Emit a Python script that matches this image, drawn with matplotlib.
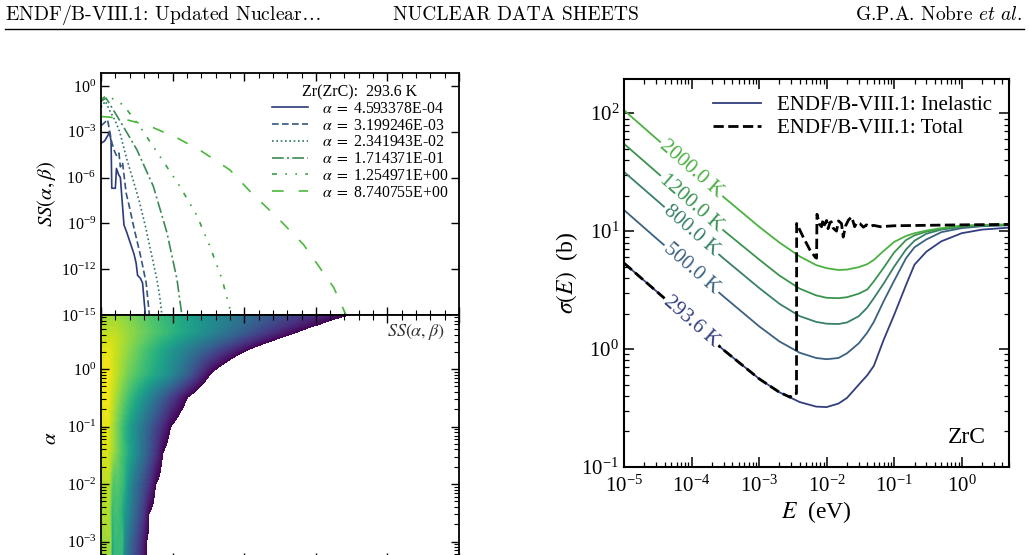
import numpy as np
import matplotlib
matplotlib.use('Agg')
import matplotlib.pyplot as plt
from matplotlib.lines import Line2D
from matplotlib.ticker import LogLocator, NullFormatter, MultipleLocator, NullLocator, FixedLocator

plt.rcParams['font.family'] = ['Liberation Serif', 'DejaVu Serif']
plt.rcParams['mathtext.fontset'] = 'stix'

# ---------------- Left top panel: SS(alpha, beta) for Zr in ZrC, 293.6 K ----------------
alpha_labels = ['4.593378E-04', '3.199246E-03', '2.341943E-02',
                '1.714371E-01', '1.254971E+00', '8.740755E+00']

beta_a1 = [0, 0.5, 1.0, 1.15, 1.4, 1.5, 2.0, 2.15, 2.45, 2.7, 3.2, 3.6, 4.1, 4.6, 4.9, 5.1, 5.5, 5.8, 6.0, 6.25]
logss_a1 = [-3.75, -3.6, -3.2, -3.0, -3.6, -6.7, -6.7, -5.4, -5.8, -6.0, -9.1, -9.6, -10.3, -11.0, -11.6, -12.4, -12.6, -12.9, -14.0, -15.3]

beta_a2 = [0, 0.5, 0.9, 1.5, 1.9, 2.2, 2.5, 2.7, 3.0, 3.5, 4.0, 4.6, 5.1, 5.6, 6.3, 6.8]
logss_a2 = [-2.6, -2.4, -2.2, -3.7, -4.3, -4.6, -4.4, -5.3, -5.0, -7.0, -8.0, -9.3, -10.3, -11.3, -12.9, -15.2]

beta_a3 = [0, 0.6, 1.2, 2.0, 2.6, 3.6, 4.5, 5.4, 6.2, 6.8, 7.4, 7.8, 8.2, 8.55]
logss_a3 = [-1.4, -1.0, -1.6, -2.3, -3.0, -4.8, -6.2, -7.65, -9.2, -10.5, -11.8, -12.65, -13.8, -15.2]

beta_a4 = [0, 0.7, 1.5, 3.1, 5.0, 7.3, 9.2, 10.6, 11.35]
logss_a4 = [-1.0, -0.8, -1.4, -2.65, -4.17, -6.57, -9.6, -12.65, -15.2]

beta_a5 = [0, 0.8, 1.5, 3.1, 5.4, 8.2, 11.0, 13.4, 15.2, 16.9, 18.0, 18.3]
logss_a5 = [-0.9, -0.6, -0.8, -1.24, -2.65, -4.6, -6.57, -8.5, -10.5, -12.65, -14.6, -15.2]

beta_a6 = [0, 2.6, 6.4, 10.6, 13.8, 18.0, 20.8, 25.0, 28.3, 30.1, 32.5, 34.4]
logss_a6 = [-2.0, -2.1, -2.55, -3.4, -4.2, -5.5, -6.9, -8.8, -10.4, -11.6, -13.2, -15.2]

contour_alpha = [4.593378e-4, 1.07e-3, 3.1e-3, 1.0e-2, 3.5e-2, 0.1, 0.33, 0.85,
                 2.17, 3.2, 4.5, 6.2, 8.740755]
row_b_459e4 = [0, 1.2, 1.4, 1.8, 2.0, 2.8, 3.0, 3.6, 5.5, 6.1]
row_l_459e4 = [-2.3, -2.1, -6.5, -6.5, -5.0, -5.0, -7.8, -9.5, -13.5, -15.0]
row_b_107e3 = [0, 1.2, 1.45, 1.8, 2.0, 2.9, 3.1, 3.7, 5.7, 6.3]
row_l_107e3 = [-2.2, -2.0, -6.3, -6.3, -4.8, -4.8, -7.5, -9.3, -13.5, -15.0]
row_b_31e3 = [0, 1.0, 1.5, 2.0, 2.6, 3.2, 4.0, 5.8, 6.6]
row_l_31e3 = [-2.0, -1.8, -5.5, -4.5, -5.0, -7.0, -8.8, -12.5, -15.0]
row_b_1e2 = [0, 1.0, 1.6, 2.2, 3.0, 3.6, 4.3, 6.8, 7.5]
row_l_1e2 = [-1.8, -1.5, -4.5, -4.0, -5.0, -7.0, -8.8, -13.2, -15.0]
row_b_35e3 = [0, 0.8, 2.0, 4.0, 6.0, 7.8, 8.5]
row_l_35e3 = [-1.2, -0.9, -3.0, -6.5, -10.0, -13.3, -15.0]
row_b_01 = [0, 0.8, 4.0, 7.0, 9.0, 9.6]
row_l_01 = [-0.9, -0.6, -6.8, -11.2, -14.0, -15.0]
row_b_033 = [0, 0.8, 3.0, 6.0, 9.0, 12.0]
row_l_033 = [-0.6, -0.3, -3.6, -7.5, -11.3, -15.0]
row_b_085 = [0, 0.8, 3.7, 6.0, 9.3, 12.0, 15.2]
row_l_085 = [-0.5, -0.2, -3.3, -5.0, -7.5, -10.5, -15.0]
row_b_217 = [0, 1.0, 5.0, 10.0, 15.0, 20.3]
row_l_217 = [-0.8, -0.6, -3.6, -7.3, -11.0, -15.0]
row_b_32 = [0, 1.5, 6.0, 12.0, 18.0, 23.9]
row_l_32 = [-1.2, -1.1, -3.8, -7.5, -11.2, -15.0]
row_b_45 = [0, 2.0, 8.0, 14.0, 20.0, 27.3]
row_l_45 = [-1.6, -1.6, -4.4, -7.4, -10.8, -15.0]
row_b_62 = [0, 2.0, 9.0, 16.0, 23.0, 30.5]
row_l_62 = [-1.9, -1.9, -5.0, -8.2, -11.4, -15.0]
row_b_874 = [0, 2.0, 13.4, 22.7, 34.3]
row_l_874 = [-2.2, -2.2, -7.1, -10.6, -15.0]

# ---------------- Right panel: ZrC cross sections ----------------
E_grid = [1e-5, 3e-5, 1e-4, 3e-4, 1e-3, 2e-3, 4e-3, 7e-3, 1e-2, 1.5e-2, 2e-2, 3e-2,
          4e-2, 5e-2, 7e-2, 0.1, 0.15, 0.2, 0.3, 0.5, 1.0, 2.0, 5.0]
sig_293 = [5.36, 3.1, 1.7, 0.98, 0.56, 0.43, 0.355, 0.325, 0.322, 0.345, 0.385, 0.50,
           0.60, 0.72, 1.2, 1.95, 3.5, 5.2, 6.7, 8.2, 9.6, 10.3, 10.7]
sig_500 = [15.1, 8.7, 4.8, 2.78, 1.56, 1.16, 0.93, 0.84, 0.82, 0.84, 0.92, 1.12,
           1.38, 1.7, 2.55, 3.8, 5.9, 7.3, 8.5, 9.8, 10.6, 11.0, 11.2]
sig_800 = [31.8, 18.4, 10.1, 5.85, 3.3, 2.42, 1.9, 1.7, 1.64, 1.63, 1.68, 1.9,
           2.25, 2.7, 3.6, 5.0, 7.0, 8.3, 9.5, 10.3, 10.85, 11.1, 11.3]
sig_1200 = [55, 31.8, 17.4, 10.1, 5.75, 4.2, 3.25, 2.85, 2.72, 2.7, 2.75, 2.95,
            3.2, 3.75, 4.9, 6.6, 8.4, 9.2, 9.9, 10.45, 10.95, 11.2, 11.35]
sig_2000 = [106, 61, 33.5, 19.4, 10.9, 8.0, 6.1, 5.15, 4.85, 4.68, 4.72, 4.95,
            5.25, 5.7, 6.8, 8.1, 9.1, 9.6, 10.1, 10.6, 11.15, 11.3, 11.4]
temp_labels = ['293.6 K', '500.0 K', '800.0 K', '1200.0 K', '2000.0 K']

E_tot = [1e-5, 3e-5, 1e-4, 3e-4, 1e-3, 2e-3, 2.9e-3, 3.0e-3, 3.58e-3, 3.6e-3, 4.5e-3, 5.6e-3,
         6.8e-3, 7.1e-3, 7.2e-3, 7.8e-3, 8.4e-3, 8.9e-3, 9.3e-3, 1.0e-2, 1.05e-2, 1.12e-2,
         1.17e-2, 1.25e-2, 1.4e-2, 1.5e-2, 1.66e-2, 1.76e-2, 1.9e-2, 2.1e-2, 2.35e-2,
         2.6e-2, 2.8e-2, 3.1e-2, 3.5e-2, 3.9e-2, 4.4e-2, 4.9e-2, 6.2e-2, 0.1, 0.3, 1.0, 5.0]
sig_tot = [5.36, 3.1, 1.7, 0.98, 0.56, 0.43, 0.39, 0.41, 0.42, 11.6, 8.9, 7.0,
           6.0, 5.9, 13.9, 11.5, 10.9, 12.6, 11.3, 12.3, 10.5, 11.8,
           12.0, 10.6, 10.0, 12.2, 11.6, 8.9, 11.0, 12.4, 13.2,
           10.9, 11.8, 11.6, 10.8, 11.3, 10.9, 11.2, 10.9, 11.1, 11.2, 11.3, 11.4]

# ---------------- styling ----------------
left_colors = ['#2c3b7a', '#34577e', '#2f7566', '#3a8a57', '#3aa044', '#4ab83b']
left_styles = ['-', (0, (4, 2)), (0, (1, 1.6)), (0, (7, 2, 1.2, 2)),
               (0, (3, 5, 1, 5, 1, 5)), (0, (7, 9))]
right_colors = ['#323e7e', '#3b6182', '#3a8068', '#3a9450', '#4cb142']

fig = plt.figure(figsize=(10.29, 5.55), dpi=100)

# header
fig.text(0.005, 0.973, r'ENDF/B-VIII.1: Updated Nuclear$\ldots$', fontfamily='cmr10',
         math_fontfamily='cm', fontsize=14.2, ha='left', va='center')
fig.text(0.5015, 0.973, 'NUCLEAR DATA SHEETS', fontfamily='cmr10', fontsize=14,
         ha='center', va='center')
fig.text(0.993, 0.973, r'G.P.A. Nobre $et\ al.$', fontfamily='cmr10', math_fontfamily='cm',
         fontsize=14, ha='right', va='center')
fig.add_artist(Line2D([0.005, 0.995], [0.947, 0.947], transform=fig.transFigure,
                      color='black', lw=1.0))

# ---- top-left
ax1 = fig.add_axes([0.0982, 0.4324, 0.3479, 0.4360])
curves_b = [beta_a1, beta_a2, beta_a3, beta_a4, beta_a5, beta_a6]
curves_l = [logss_a1, logss_a2, logss_a3, logss_a4, logss_a5, logss_a6]
for b, l, lab, col, ls in zip(curves_b, curves_l, alpha_labels, left_colors, left_styles):
    ax1.plot(b, 10.0 ** np.array(l), color=col, ls=ls, lw=1.2,
             label=r'$\alpha\ =\ $' + lab)
ax1.set_yscale('log')
ax1.set_xlim(0, 50)
ax1.set_ylim(1e-15, 7)
ax1.yaxis.set_major_locator(FixedLocator([1e0, 1e-3, 1e-6, 1e-9, 1e-12, 1e-15]))
ax1.yaxis.set_minor_locator(NullLocator())
ax1.xaxis.set_major_locator(MultipleLocator(10))
ax1.xaxis.set_minor_locator(MultipleLocator(2))
ax1.tick_params(which='both', direction='in', top=True, right=True, labelbottom=False,
                labelsize=11.5)
ax1.tick_params(which='major', length=6, width=1)
ax1.tick_params(which='minor', length=3.5, width=0.8)
ax1.set_ylabel(r'$SS(\alpha,\beta)$', fontsize=15, labelpad=2)
leg1 = ax1.legend(title='Zr(ZrC):  293.6 K', loc='upper right', frameon=False,
                  fontsize=11.3, title_fontsize=11.5, labelspacing=0.05,
                  handlelength=2.3, borderaxespad=0.1, borderpad=0.6,
                  handletextpad=0.9)
for s in ax1.spines.values():
    s.set_linewidth(1.3)

# ---- bottom-left contour: table built from the rows, refined along log(alpha)
ax2 = fig.add_axes([0.0982, -0.0108, 0.3479, 0.4432])
rows_b = [row_b_459e4, row_b_107e3, row_b_31e3, row_b_1e2, row_b_35e3, row_b_01, row_b_033,
          row_b_085, row_b_217, row_b_32, row_b_45, row_b_62, row_b_874]
rows_l = [row_l_459e4, row_l_107e3, row_l_31e3, row_l_1e2, row_l_35e3, row_l_01, row_l_033,
          row_l_085, row_l_217, row_l_32, row_l_45, row_l_62, row_l_874]
beta_grid = np.linspace(0, 50, 501)
table_rows = []
for b, l in zip(rows_b, rows_l):
    tail_slope = (l[-1] - l[-2]) / (b[-1] - b[-2])
    bb = list(b) + [60.0]
    ll = list(l) + [max(l[-1] + tail_slope * (60.0 - b[-1]), -60.0)]
    table_rows.append(np.interp(beta_grid, bb, ll))
table = np.array(table_rows)
log_a = np.log10(contour_alpha)
log_a_fine = np.linspace(log_a[0], log_a[-1], 300)
table_fine = np.array([np.interp(log_a_fine, log_a, table[:, j])
                       for j in range(len(beta_grid))]).T
alpha_fine = 10.0 ** log_a_fine
levels = np.linspace(-15, 0, 61)
cs = ax2.contourf(beta_grid, alpha_fine, table_fine, levels=levels, cmap='viridis')
cs.set_edgecolor('face')
ax2.set_yscale('log')
ax2.set_xlim(0, 50)
ax2.set_ylim(contour_alpha[0], contour_alpha[-1])
ax2.xaxis.set_major_locator(MultipleLocator(10))
ax2.xaxis.set_minor_locator(MultipleLocator(2))
ax2.yaxis.set_major_locator(LogLocator(base=10))
ax2.yaxis.set_minor_locator(LogLocator(base=10, subs=np.arange(2, 10)))
ax2.yaxis.set_minor_formatter(NullFormatter())
ax2.tick_params(which='both', direction='in', top=True, right=True, labelsize=11.5,
                labelbottom=False)
ax2.tick_params(which='major', length=6, width=1)
ax2.tick_params(which='minor', length=3.5, width=0.8)
ax2.set_ylabel(r'$\alpha$', fontsize=15, labelpad=4)
ax2.text(0.96, 0.97, r'$SS(\alpha,\beta)$', transform=ax2.transAxes, ha='right', va='top',
         fontsize=13, color='#333333')
for s in ax2.spines.values():
    s.set_linewidth(1.3)

# ---- right panel
ax3 = fig.add_axes([0.6064, 0.1586, 0.3741, 0.6991])
sigmas = [sig_293, sig_500, sig_800, sig_1200, sig_2000]
for sig, col in zip(sigmas, right_colors):
    ax3.plot(E_grid, sig, color=col, lw=1.3)
ax3.plot(E_tot, sig_tot, color='black', ls='--', lw=2.0)
ax3.set_xscale('log')
ax3.set_yscale('log')
ax3.set_xlim(1e-5, 5)
ax3.set_ylim(0.1, 195)
ax3.xaxis.set_major_locator(LogLocator(base=10))
ax3.xaxis.set_minor_locator(LogLocator(base=10, subs=np.arange(2, 10)))
ax3.xaxis.set_minor_formatter(NullFormatter())
ax3.yaxis.set_major_locator(LogLocator(base=10))
ax3.yaxis.set_minor_locator(LogLocator(base=10, subs=np.arange(2, 10)))
ax3.yaxis.set_minor_formatter(NullFormatter())
ax3.tick_params(which='both', direction='in', top=True, right=True, labelsize=15)
ax3.tick_params(which='major', length=7, width=1.1)
ax3.tick_params(which='minor', length=3.5, width=0.9)
ax3.tick_params(axis='x', pad=6)
ax3.set_xlabel(r'$E$  (eV)', fontsize=17, labelpad=2)
ax3.set_ylabel(r'$\sigma(E)$  (b)', fontsize=17, labelpad=1)
for s in ax3.spines.values():
    s.set_linewidth(1.5)

# inline temperature labels
for sig, col, lab in zip(sigmas, right_colors, temp_labels):
    p1 = ax3.transData.transform((E_grid[1], sig[1]))
    p2 = ax3.transData.transform((E_grid[3], sig[3]))
    ang = np.degrees(np.arctan2(p2[1] - p1[1], p2[0] - p1[0]))
    ax3.text(E_grid[2], sig[2], lab, color=col, fontsize=15, rotation=ang,
             rotation_mode='anchor', ha='center', va='center', zorder=5,
             bbox=dict(facecolor='white', edgecolor='none', pad=1.5))

handles = [Line2D([], [], color=right_colors[0], lw=1.3),
           Line2D([], [], color='black', ls='--', lw=2.0)]
ax3.legend(handles, ['ENDF/B-VIII.1: Inelastic', 'ENDF/B-VIII.1: Total'],
           loc='upper right', frameon=False, fontsize=15, labelspacing=0.15,
           handlelength=2.3, borderaxespad=0.4)
ax3.text(0.94, 0.05, 'ZrC', transform=ax3.transAxes, ha='right', va='bottom', fontsize=17)

fig.savefig('out.png', dpi=100)
